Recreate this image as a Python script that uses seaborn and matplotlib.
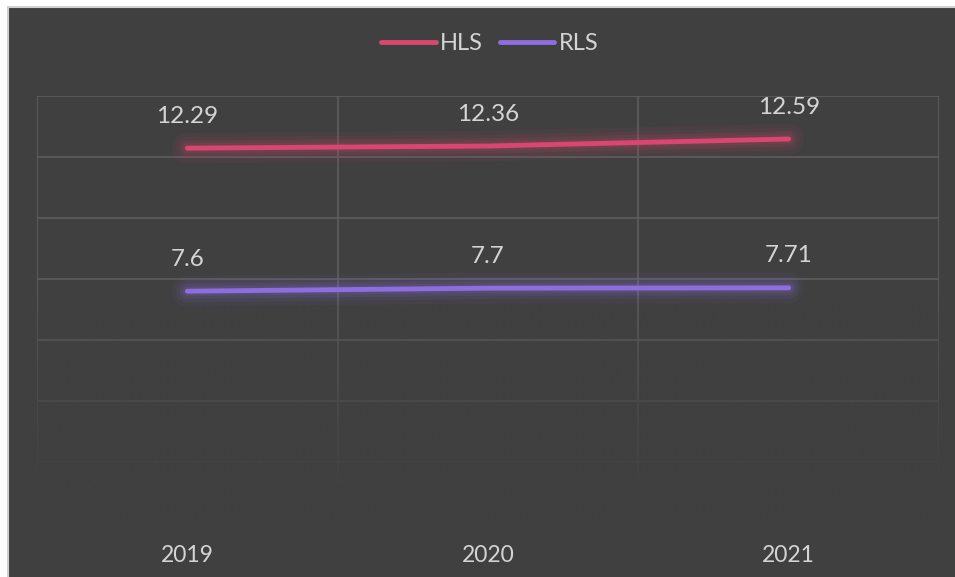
import numpy as np
import pandas as pd
import matplotlib.pyplot as plt
import seaborn as sns
from matplotlib.patches import Rectangle

years = ["2019", "2020", "2021"]
hls = [12.29, 12.36, 12.59]
rls = [7.6, 7.7, 7.71]
series_names = ["HLS", "RLS"]
colors = {"HLS": "#d9466f", "RLS": "#8c6ee0"}

bg = "#404040"
txt = "#d4d4d4"

df = pd.DataFrame({"year": years * 2,
                   "value": hls + rls,
                   "series": ["HLS"] * 3 + ["RLS"] * 3})
df["x"] = df.groupby("series").cumcount()

sns.set_style("dark")
plt.rcParams["font.family"] = ["Lato", "DejaVu Sans"]

fig = plt.figure(figsize=(9.55, 5.77), dpi=100)
fig.patch.set_facecolor("white")
# dark chart area, light border only shows on the top and left
fig.patches.append(Rectangle((8 / 955, -0.05), 1.1, 1.05 - 7 / 577, transform=fig.transFigure,
                             facecolor=bg, edgecolor="#d0d0d0", lw=1.5, zorder=-10))

ax = fig.add_axes([37 / 955, 54 / 577, 902 / 955, 427 / 577])
ax.set_facecolor(bg)
ax.patch.set_alpha(0)

# glow underneath each line
for name in series_names:
    sub = df[df.series == name]
    for lw, a in [(22, 0.06), (16, 0.08), (11, 0.1), (7, 0.12)]:
        ax.plot(sub.x, sub.value, color=colors[name], lw=lw, alpha=a,
                solid_capstyle="round", zorder=3)

sns.lineplot(data=df, x="x", y="value", hue="series", palette=colors, ax=ax,
             lw=3.5, zorder=4, legend=False)
for line in ax.lines:
    line.set_solid_capstyle("round")

for _, r in df.iterrows():
    ax.annotate(f"{r.value:g}", (r.x, r.value), xytext=(0, 23), textcoords="offset points",
                ha="center", va="center", color=txt, fontsize=17.5, zorder=5)

ax.set_xlim(-0.5, 2.5)
ax.set_ylim(0, 14)
ax.set_yticks(np.arange(0, 15, 2))
ax.set_yticklabels([])
ax.set_xticks(range(3))
ax.set_xticklabels(years, color=txt, fontsize=16.5)
ax.set_xticks([-0.5, 0.5, 1.5, 2.5], minor=True)
ax.tick_params(axis="x", which="both", length=0, pad=16)
ax.tick_params(axis="y", length=0)
ax.grid(False)
ax.grid(True, axis="y", which="major", color="#5e5e5e", lw=1.2, zorder=1)
ax.grid(True, axis="x", which="minor", color="#5e5e5e", lw=1.2, zorder=1)
for s in ax.spines.values():
    s.set_visible(False)
ax.set_xlabel("")
ax.set_ylabel("")

# fade the grid out towards the bottom
ramp = np.clip((7.5 - np.linspace(0, 14, 300)) / 6.5, 0, 1) ** 0.8
img = np.zeros((300, 2, 4))
img[..., :3] = np.array([0x40, 0x40, 0x40]) / 255
img[..., 3] = ramp[:, None]
ax.imshow(img, extent=(-0.52, 2.52, 0, 14), origin="lower", aspect="auto", zorder=2,
          interpolation="bilinear")
ax.set_xlim(-0.5, 2.5)
ax.set_ylim(0, 14)

handles = [plt.Line2D([], [], color=colors[n], lw=3.5, solid_capstyle="round") for n in series_names]
fig.legend(handles, series_names, loc="center", bbox_to_anchor=(0.513, 1 - 44 / 577), ncol=2,
           frameon=False, fontsize=17, labelcolor=txt, handlelength=2.3,
           handletextpad=0.2, columnspacing=0.7)

fig.savefig("out.png", dpi=100, facecolor=fig.get_facecolor())
